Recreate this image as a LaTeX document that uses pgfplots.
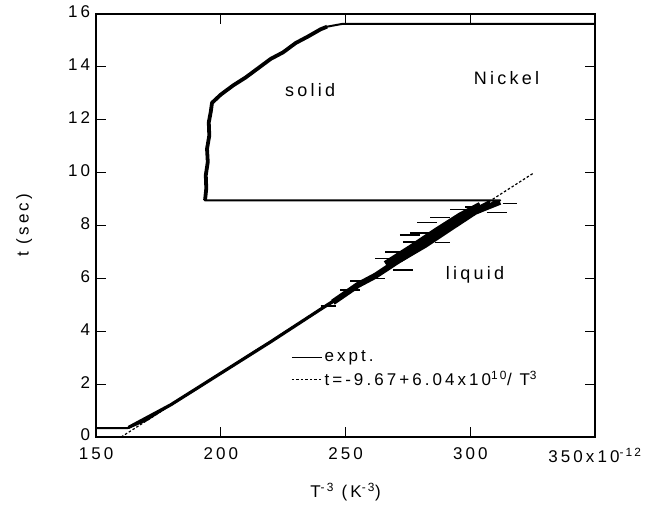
\documentclass[border=0pt]{standalone}
\usepackage{fontspec}
\setmainfont{Liberation Sans}[LetterSpace=18]
\usepackage{pgfplots}
\pgfplotsset{compat=1.18}
\begin{document}
\fontsize{17}{20}\selectfont
\begin{tikzpicture}
\begin{axis}[name=ax, scale only axis, width=499pt, height=423pt,
  xmin=150, xmax=350, ymin=0, ymax=16,
  xtick={150,200,250,300,350},
  xticklabels={150,200,250,300,350x10\textsuperscript{-12}},
  ytick={0,2,4,6,8,10,12,14,16},
  tick align=inside, major tick length=10pt, tick pos=both,
  axis line style={line width=1.4pt},
  every tick/.style={line width=1pt, black},
  /pgf/number format/assume math mode=true,
  ticklabel style={font=\fontsize{17}{20}\selectfont},
  xticklabel style={yshift=-5pt},
  yticklabel style={yshift=2pt},
  xlabel={T\textsuperscript{-3} (K\textsuperscript{-3})},
  ylabel={t (sec)},
  xlabel style={at={(axis description cs:0.5,-0.130)}, anchor=center},
  ylabel style={at={(axis description cs:-0.144,0.5)}, anchor=center},
  legend style={draw=none, fill=none, at={(axis description cs:0.385,0.215)}, anchor=north west, row sep=3pt, font=\fontsize{17}{20}\selectfont},
  legend cell align=left,
  unbounded coords=jump,
  clip=false,
]
% experimental curve
\addplot[black, line width=2pt, line join=round,
  legend image code/.code={\draw[black,line width=1pt](0pt,0pt)--(30pt,0pt);}]
coordinates {
(150,0.34) (162.8,0.34) (170,0.62) (175,0.92) (180,1.22) (185,1.52)
(190,1.80) (195,2.12) (200,2.41) (205,2.71) (210,3.02) (215,3.32) (220,3.60)
(225,3.92) (230,4.22) (235,4.52) (240,4.83) (245,5.10) (250,5.44) (255,5.70)
(260,6.05) (265,6.33) (270,6.64) (275,6.93) (280,7.25) (285,7.55) (290,7.82)
(295,8.14) (300,8.43) (305,8.70) (310,8.90) (312,8.95)
(193.7,8.95)
(194.2,9.4) (194.0,9.9) (194.8,10.4) (194.5,10.9) (195.4,11.4) (195.2,11.9)
(196.0,12.3) (196.5,12.64)
(200,12.95) (205,13.3) (210,13.6) (215,13.95) (220,14.3) (225,14.55)
(230,14.9) (235,15.15) (240,15.42) (242.6,15.52) (249,15.63) (350,15.63)
};
\addlegendentry{expt.}
% fit line
\addplot[black, line width=1.2pt, dash pattern=on 2.5pt off 2pt,
  legend image code/.code={\draw[black,line width=1.2pt,dash pattern=on 2.5pt off 2pt](0pt,0pt)--(30pt,0pt);}]
coordinates {(160.1,0) (325,9.96)};
\addlegendentry{t=-9.67+6.04x10\textsuperscript{10}/ T\textsuperscript{3}}
% thicker noisy parts of the data
\addplot[black, line width=3.2pt, line join=round, forget plot] coordinates {
(163,0.36) (180,1.22) (200,2.41) (220,3.60) (240,4.83) (250,5.44)
};
\addplot[black, line width=3.8pt, line join=round, forget plot] coordinates {
(193.7,8.95) (194.2,9.4) (194.0,9.9) (194.8,10.4) (194.5,10.9) (195.4,11.4) (195.2,11.9)
(196.0,12.3) (196.5,12.64)
(200,12.95) (205,13.3) (210,13.6) (215,13.95) (220,14.3) (225,14.55)
(230,14.9) (235,15.15) (240,15.42) (242.6,15.52)
};
\addplot[black, line width=6pt, forget plot] coordinates {
(245,5.1) (255,5.75) (262,6.1) (270,6.6) (280,7.2) (290,7.85) (300,8.45) (308,8.85)
};
\addplot[black, line width=6pt, forget plot] coordinates {
(266,6.55) (276,7.15) (286,7.78) (296,8.38) (304,8.78)
};
\addplot[black, line width=5pt, forget plot] coordinates {
(272,6.7) (282,7.25) (292,7.88) (302,8.5) (312,8.88)
};
% horizontal spikes
\addplot[black, line width=1.3pt, forget plot] coordinates {
(269,6.32) (277,6.32) (nan,nan)
(278.7,8.1) (286.7,8.1) (nan,nan)
(306.7,8.5) (314.7,8.5) (nan,nan)
(313,8.82) (318.7,8.82) (nan,nan)
(247.8,5.56) (255.8,5.56) (nan,nan)
(273,7.38) (282.7,7.38) (nan,nan)
(275.8,7.72) (283.9,7.72) (nan,nan)
(271.8,7.64) (279.9,7.64) (nan,nan)
(258,6.0) (266,6.0) (nan,nan)
(284,8.3) (292,8.3) (nan,nan)
(292,8.6) (300,8.6) (nan,nan)
(262,6.75) (268,6.75) (nan,nan)
(240,4.95) (246,4.95) (nan,nan)
(298,8.7) (306,8.7) (nan,nan)
(286,7.35) (292,7.35) (nan,nan)
(252,5.9) (258,5.9) (nan,nan)
(266,7.0) (272,7.0)
};
\node[font=\fontsize{18}{21}\selectfont] at (axis cs:235.8,13.13) {solid};
\node[font=\fontsize{18}{21}\selectfont] at (axis cs:314.5,13.59) {Nickel};
\node[font=\fontsize{18}{21}\selectfont] at (axis cs:301.9,6.13) {liquid};
\end{axis}
\path ([xshift=-96pt,yshift=-68pt]ax.south west) rectangle ([xshift=61pt,yshift=14pt]ax.north east);
\end{tikzpicture}
\end{document}
